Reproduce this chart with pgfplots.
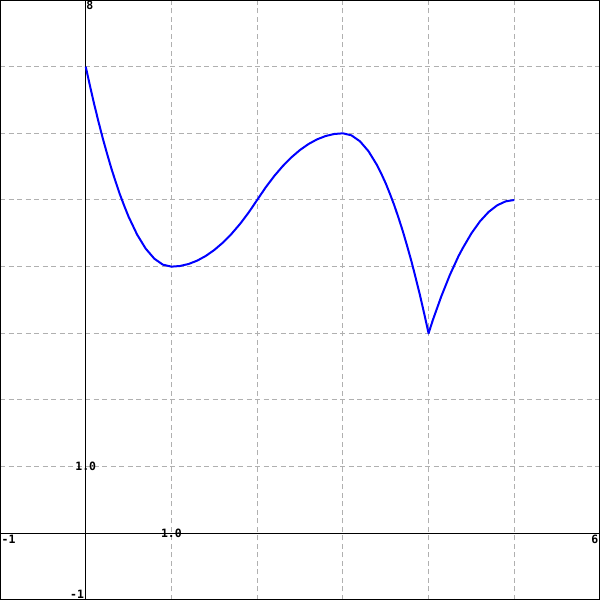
\documentclass[border=0pt]{standalone}
\usepackage{pgfplots}
\pgfplotsset{compat=1.18}
\usepackage{fontspec}
\setmonofont{DejaVu Sans Mono}
\definecolor{gridgray}{RGB}{176,176,176}
\newcommand{\lbl}{\ttfamily\bfseries\fontsize{11.5}{12}\selectfont}
\begin{document}
\begin{tikzpicture}
\begin{axis}[
  scale only axis, width=600bp, height=600bp,
  xmin=-1, xmax=6, ymin=-1, ymax=8,
  xtick={-1,...,6}, ytick={-1,...,8},
  xticklabels={}, yticklabels={},
  major tick length=0pt,
  grid=major,
  major grid style={gridgray, dash pattern=on 5bp off 3.5bp, line width=1bp},
  extra x ticks={0}, extra y ticks={0},
  extra x tick labels={}, extra y tick labels={},
  extra tick style={major grid style={black, solid, line width=1.1bp}},
  axis line style={black, line width=2bp},
]
\addplot[blue, line width=2bp, line join=round] coordinates {
  (0,7) (0.05,6.71) (0.1,6.43) (0.15,6.17) (0.2,5.92) (0.25,5.69)
  (0.3,5.47) (0.35,5.27) (0.4,5.08) (0.45,4.91) (0.5,4.75)
  (0.6,4.48) (0.7,4.27) (0.8,4.12) (0.9,4.03) (1.0,4)
  (1.1,4.01) (1.2,4.04) (1.3,4.09) (1.4,4.16) (1.5,4.25)
  (1.6,4.36) (1.7,4.49) (1.8,4.64) (1.9,4.81) (2.0,5)
  (2.1,5.19) (2.2,5.36) (2.3,5.51) (2.4,5.64) (2.5,5.75)
  (2.6,5.84) (2.7,5.91) (2.8,5.96) (2.9,5.99) (3.0,6)
  (3.1,5.97) (3.2,5.88) (3.3,5.73) (3.4,5.52) (3.45,5.39) (3.5,5.25)
  (3.55,5.09) (3.6,4.92) (3.65,4.73) (3.7,4.53) (3.75,4.31) (3.8,4.08)
  (3.85,3.83) (3.9,3.57) (3.95,3.29) (4.0,3)
  (4.05,3.20) (4.1,3.38) (4.15,3.56) (4.2,3.72) (4.25,3.88) (4.3,4.02)
  (4.35,4.16) (4.4,4.28) (4.5,4.5)
  (4.6,4.68) (4.7,4.82) (4.8,4.92) (4.9,4.98) (5.0,5)
};
\node[font=\lbl, anchor=north west, inner sep=1.5bp] at (axis cs:-1,0) {-1};
\node[font=\lbl, anchor=north east, inner sep=1.5bp] at (axis cs:6,0) {6};
\node[font=\lbl, anchor=north west, inner sep=0.5bp] at (axis cs:0,8) {8};
\node[font=\lbl, anchor=south east, inner sep=1.5bp] at (axis cs:0,-1) {-1};
\node[font=\lbl, anchor=center, inner sep=0bp] at (axis cs:1,0) {1.0};
\node[font=\lbl, anchor=center, inner sep=0bp] at (axis cs:0,1) {1.0};
\end{axis}
\pgfresetboundingbox
\path (current axis.south west) rectangle (current axis.north east);
\end{tikzpicture}
\end{document}
